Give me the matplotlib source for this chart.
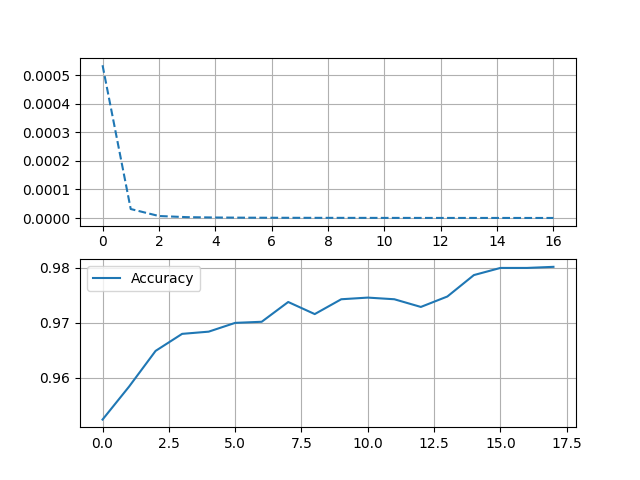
import matplotlib
matplotlib.use("Agg")
import matplotlib.pyplot as plt

# loss per epoch (top panel)
loss = [0.000535, 0.0000315, 0.000007, 0.000003, 0.0000018, 0.0000012, 0.0000009,
        0.0000007, 0.0000006, 0.0000005, 0.0000004, 0.00000035, 0.0000003,
        0.00000027, 0.00000024, 0.00000022, 0.0000002]

# accuracy per epoch (bottom panel)
accuracy = [0.9524, 0.9584, 0.9649, 0.9680, 0.9684, 0.9700, 0.9702, 0.9738,
            0.9716, 0.9743, 0.9746, 0.9743, 0.9729, 0.9748, 0.9787, 0.9800,
            0.9800, 0.9802]

fig, (ax1, ax2) = plt.subplots(2, 1, figsize=(6.4, 4.8), dpi=100)

ax1.plot(loss, linestyle='--')
ax1.grid(True)

ax2.plot(accuracy, label='Accuracy')
ax2.legend(loc='upper left')
ax2.grid(True)

fig.savefig('out.png')
